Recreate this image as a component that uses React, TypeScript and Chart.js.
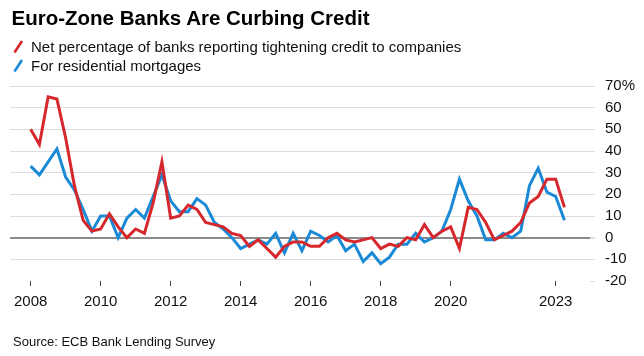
import React, { useEffect, useRef } from "react";
import { Chart, registerables } from "chart.js";

Chart.register(...registerables);

const startYear = 2008;
// Net % of banks reporting tightening credit standards, quarterly from 2008 Q1
const companies = [
  50, 43, 65, 64, 46, 24, 8, 3, 4, 11,
  5, 0, 4, 2, 16, 35, 9, 10, 15, 13,
  7, 6, 5, 2, 1, -4, -1, -5, -9, -4,
  -2, -2, -4, -4, 0, 2, -1, -2, -1, 0,
  -5, -3, -4, 0, -1, 6, 0, 3, 5, -5,
  14, 13, 7, -1, 1, 3, 7, 16, 19, 27,
  27, 14,
];
const mortgages = [
  33, 29, 35, 41, 28, 22, 13, 3, 10, 10,
  0, 9, 13, 9, 19, 29, 17, 12, 12, 18,
  15, 7, 4, 0, -5, -3, -1, -3, 2, -7,
  2, -6, 3, 1, -2, 1, -6, -3, -11, -7,
  -12, -9, -3, -3, 2, -2, 0, 3, 13, 27,
  17, 10, -1, -1, 2, 0, 3, 24, 32, 21,
  19, 8,
];
const xTickYears = [2008, 2010, 2012, 2014, 2016, 2018, 2020, 2023];
const yTicks = [-20, -10, 0, 10, 20, 30, 40, 50, 60, 70];

const seriesNames = [
  "Net percentage of banks reporting tightening credit to companies",
  "For residential mortgages",
];

const RED = "#d6282c";
const BLUE = "#1b8ad6";
const FONT = "'Liberation Sans', Arial, Helvetica, sans-serif";

export default function App() {
  const canvasRef = useRef<HTMLCanvasElement | null>(null);

  useEffect(() => {
    const canvas = canvasRef.current;
    if (!canvas) return;
    const qx = (i: number) => startYear + i / 4;
    const chart = new Chart(canvas, {
      type: "line",
      data: {
        datasets: [
          {
            label: seriesNames[0],
            data: companies.map((v, i) => ({ x: qx(i), y: v })),
            borderColor: RED,
            backgroundColor: RED,
            borderWidth: 3,
            pointRadius: 0,
            tension: 0,
          },
          {
            label: seriesNames[1],
            data: mortgages.map((v, i) => ({ x: qx(i), y: v })),
            borderColor: BLUE,
            backgroundColor: BLUE,
            borderWidth: 3,
            pointRadius: 0,
            tension: 0,
          },
        ],
      },
      options: {
        animation: false,
        responsive: false,
        maintainAspectRatio: false,
        layout: { padding: { top: 86, left: 10, right: 0, bottom: 45 } },
        plugins: {
          legend: { display: false },
          tooltip: { enabled: false },
          title: { display: false },
        },
        scales: {
          x: {
            type: "linear",
            min: 2007.41,
            max: 2023.98,
            afterBuildTicks: (scale: any) => {
              scale.ticks = xTickYears.map((v) => ({ value: v }));
            },
            afterFit: (scale: any) => {
              scale.height = 30;
            },
            border: { display: false },
            grid: {
              display: true,
              drawOnChartArea: false,
              drawTicks: true,
              tickLength: 5,
              tickColor: "#444",
              tickWidth: 1,
            },
            ticks: {
              autoSkip: false,
              maxRotation: 0,
              padding: 7,
              color: "#111",
              font: { family: FONT, size: 15 },
              callback: (v: any) => String(v),
            },
          },
          y: {
            position: "right",
            min: -20,
            max: 70,
            afterBuildTicks: (scale: any) => {
              scale.ticks = yTicks.map((v) => ({ value: v }));
            },
            afterFit: (scale: any) => {
              scale.width = 54;
            },
            border: { display: false },
            grid: {
              drawTicks: true,
              tickLength: 5,
              tickColor: "#dcdcdc",
              color: (ctx: any) => {
                const v = ctx.tick ? ctx.tick.value : null;
                if (v === 0) return "#8a8a8a";
                if (v === -20) return "rgba(0,0,0,0)";
                return "#dcdcdc";
              },
              lineWidth: (ctx: any) => (ctx.tick && ctx.tick.value === 0 ? 2 : 1),
            },
            ticks: {
              padding: 10,
              color: "#111",
              font: { family: FONT, size: 15 },
              callback: (v: any) => (v === 70 ? "70%" : String(v)),
            },
          },
        },
      },
    });
    return () => chart.destroy();
  }, []);

  return (
    <div
      style={{
        position: "fixed",
        left: 0,
        top: 0,
        width: 644,
        height: 356,
        background: "#fff",
        fontFamily: FONT,
        overflow: "hidden",
      }}
    >
      <canvas
        ref={canvasRef}
        width={644}
        height={356}
        style={{ position: "absolute", left: 0, top: 0, width: 644, height: 356 }}
      />
      <div
        style={{
          position: "absolute",
          left: 11.5,
          top: 6,
          fontSize: 20.5,
          lineHeight: "24px",
          fontWeight: 700,
          color: "#000",
          whiteSpace: "nowrap",
        }}
      >
        Euro-Zone Banks Are Curbing Credit
      </div>
      <svg
        width={40}
        height={80}
        style={{ position: "absolute", left: 0, top: 0 }}
      >
        <line x1={14.5} y1={52.5} x2={22} y2={41} stroke={RED} strokeWidth={2.6} />
        <line x1={14.5} y1={71.5} x2={22} y2={60} stroke={BLUE} strokeWidth={2.6} />
      </svg>
      <div
        style={{
          position: "absolute",
          left: 31,
          top: 36.5,
          fontSize: 15,
          lineHeight: "19px",
          color: "#111",
          whiteSpace: "nowrap",
        }}
      >
        {seriesNames[0]}
      </div>
      <div
        style={{
          position: "absolute",
          left: 31,
          top: 55.5,
          fontSize: 15,
          lineHeight: "19px",
          color: "#111",
          whiteSpace: "nowrap",
        }}
      >
        {seriesNames[1]}
      </div>
      <div
        style={{
          position: "absolute",
          left: 13,
          top: 333.5,
          fontSize: 13,
          lineHeight: "16px",
          color: "#111",
          whiteSpace: "nowrap",
        }}
      >
        Source: ECB Bank Lending Survey
      </div>
    </div>
  );
}
